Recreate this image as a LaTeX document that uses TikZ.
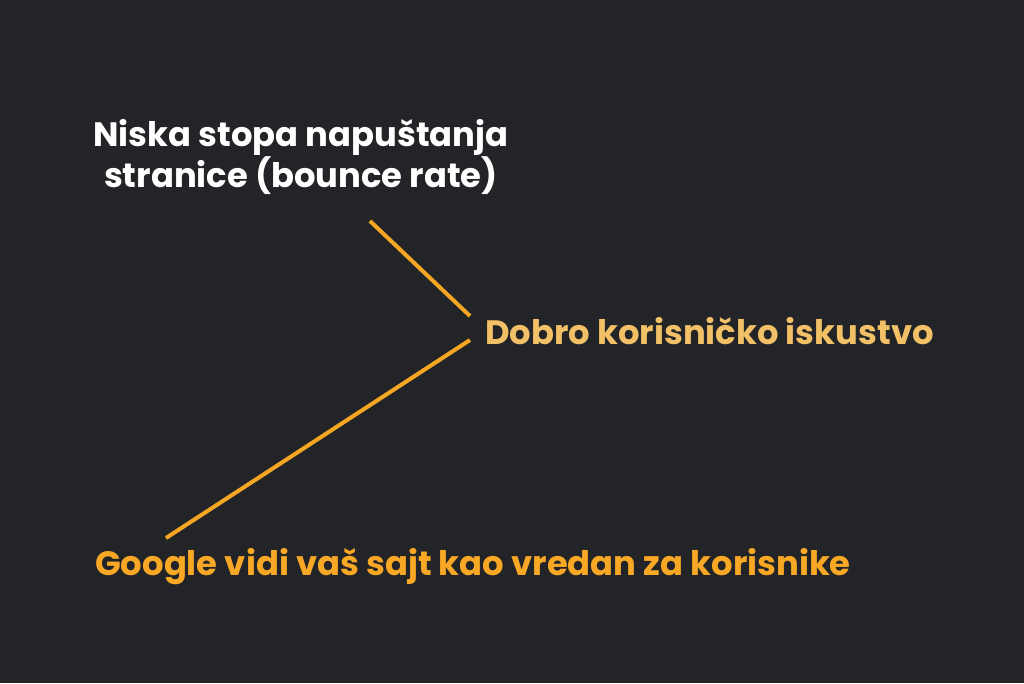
\documentclass[tikz,border=0pt]{standalone}
\usepackage{fontspec}
\setmainfont{Poppins}[BoldFont={* Bold}]
\definecolor{bg}{HTML}{232427}
\definecolor{lineor}{HTML}{F5A623}
\definecolor{lightor}{HTML}{F2C066}
\definecolor{deepor}{HTML}{F9A825}
\tikzset{
  conn/.style={draw=lineor, line width=4pt},
  lbl/.style={font=\bfseries\fontsize{33.8}{37}\selectfont, inner sep=0pt, anchor=base west},
}
\begin{document}
\begin{tikzpicture}[x=1pt,y=-1pt]
\fill[bg] (0,0) rectangle (1024,683);
\useasboundingbox (0,0) rectangle (1024,683);
\node[lbl, text=white, align=center, anchor=base] (a) at (301,187) {Niska stopa napuštanja\\stranice (bounce rate)};
\node[lbl, text=lightor] (b) at (485,344) {Dobro korisničko iskustvo};
\node[lbl, text=deepor] (c) at (95,575) {Google vidi vaš sajt kao vredan za korisnike};
\coordinate (a1) at (370,221);
\coordinate (b1) at (470,316);
\coordinate (b2) at (470,340);
\coordinate (c1) at (166,538);
\draw[conn] (a1) -- (b1);
\draw[conn] (b2) -- (c1);
\end{tikzpicture}
\end{document}
